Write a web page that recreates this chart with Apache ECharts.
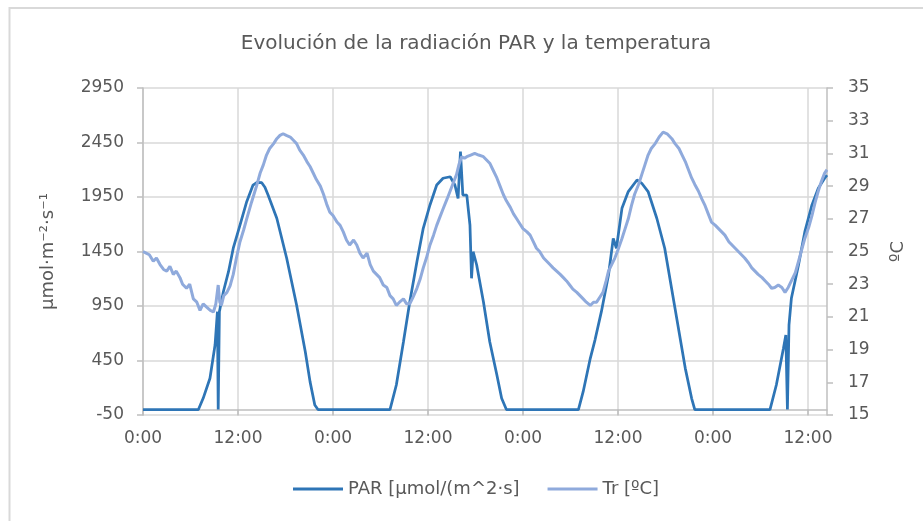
<!DOCTYPE html>
<html>
<head>
<meta charset="utf-8">
<script src="https://cdn.jsdelivr.net/npm/echarts@6/dist/echarts.min.js"></script>
<style>
  html, body { margin: 0; padding: 0; background: #fff; }
  #chart { width: 923px; height: 521px; }
</style>
</head>
<body>
<div id="chart"></div>
<script>
// PAR radiation (µmol/(m^2·s)), time in hours from the first 0:00
const parHours = [
  0, 7.0, 7.6, 8.46, 9.1, 9.4, 9.5, 9.65, 10.15, 10.8, 11.4, 12.25, 13.1, 13.9, 14.4, 15.0, 15.4, 15.8,
  16.9, 18.15, 19.4, 20.5, 21.1, 21.7, 22.1,
  31.2, 32.0, 32.9, 33.7, 34.6, 35.4, 36.25, 37.1, 37.9, 38.8, 39.4, 39.8, 40.1, 40.4, 40.9, 41.3, 41.5,
  41.7, 42.15, 43.0, 43.8, 44.7, 45.3, 45.9,
  55.0, 55.6, 56.5, 57.1, 57.9, 58.8, 59.4, 59.8, 60.5, 61.3, 62.4, 63.0, 63.8, 64.9, 65.9, 67.2, 68.5,
  69.3, 69.7,
  79.2, 80.0, 80.9, 81.2, 81.4, 81.6, 81.9, 82.8, 83.6, 84.5, 85.3, 86.1, 86.4
];
const parValues = [
  0, 0, 103, 287, 592, 898, 0, 898, 1081, 1265, 1480, 1693, 1907, 2060, 2085, 2081, 2040, 1968,
  1755, 1388, 959, 531, 256, 42, 0,
  0, 225, 622, 989, 1356, 1663, 1877, 2060, 2122, 2136, 2060, 1938, 2366, 1968, 1968, 1693, 1204,
  1448, 1326, 989, 622, 317, 103, 0,
  0, 164, 470, 640, 898, 1234, 1571, 1480, 1846, 2000, 2106, 2076, 2000, 1755, 1480, 929, 378,
  103, 0,
  0, 225, 562, 684, 0, 776, 1021, 1326, 1632, 1877, 2030, 2122, 2150
];

// Tr temperature (ºC)
const tempHours = [
  0, 0.4, 0.8, 1.3, 1.7, 2.15, 2.6, 3.0, 3.4, 3.83, 4.2, 4.67, 5.0, 5.5, 5.9, 6.36, 6.8, 7.2, 7.6, 8.04,
  8.5, 8.9, 9.2, 9.5, 9.7, 9.9, 10.2, 10.6, 11.0, 11.4, 11.8, 12.25, 12.7, 13.1, 13.7, 14.4, 14.8, 15.2,
  15.6, 16.0, 16.5, 16.9, 17.3, 17.7, 18.1, 18.6, 19.0, 19.4, 19.8, 20.25, 20.7, 21.1, 21.5, 21.9, 22.4,
  22.8, 23.2, 23.6, 24.0, 24.5, 24.9, 25.3, 25.7, 26.1, 26.6, 27.0, 27.4, 27.8, 28.3, 28.7, 29.1, 29.5,
  29.9, 30.35, 30.8, 31.2, 31.6, 32.0, 32.4, 32.9, 33.3, 33.7, 34.1, 34.6, 35.0, 35.4, 35.8, 36.25,
  36.7, 37.1, 37.5, 37.9, 38.4, 38.8, 39.2, 39.6, 39.9, 40.25, 40.6, 40.9, 41.4, 41.9, 42.4, 43.0,
  43.4, 43.8, 44.2, 44.7, 45.1, 45.5, 45.9, 46.4, 46.8, 47.2, 47.6, 48.0, 48.5, 48.9, 49.3, 49.7, 50.1,
  50.6, 51.0, 51.4, 51.8, 52.25, 52.7, 53.1, 53.5, 53.9, 54.3, 54.8, 55.2, 55.6, 56.0, 56.5, 56.9, 57.3,
  57.7, 58.1, 58.5, 58.8, 59.2, 59.6, 60.0, 60.5, 60.9, 61.3, 61.7, 62.1, 62.6, 63.0, 63.4, 63.8, 64.2,
  64.7, 65.2, 65.7, 66.2, 66.8, 67.2, 67.7, 68.1, 68.5, 68.9, 69.3, 69.7, 70.15, 70.6, 71.0, 71.4, 71.8,
  72.3, 72.7, 73.1, 73.5, 74.0, 74.4, 74.8, 75.2, 75.6, 76.0, 76.5, 76.9, 77.3, 77.7, 78.2, 78.6, 79.0,
  79.4, 79.8, 80.25, 80.7, 81.1, 81.5, 81.9, 82.4, 82.8, 83.2, 83.6, 84.1, 84.5, 84.9, 85.3, 85.7, 86.1,
  86.4
];
const tempValues = [
  25.0, 24.9, 24.8, 24.4, 24.6, 24.2, 23.9, 23.8, 24.1, 23.6, 23.8, 23.4, 23.0, 22.75, 23.0, 22.1, 21.9, 21.4, 21.8, 21.6,
  21.4, 21.3, 21.8, 22.95, 21.9, 21.7, 22.3, 22.5, 22.9, 23.6, 24.6, 25.6, 26.3, 27.0, 28.0, 29.1, 29.8, 30.3,
  30.9, 31.3, 31.6, 31.9, 32.1, 32.2, 32.1, 32.0, 31.8, 31.6, 31.2, 30.9, 30.5, 30.2, 29.8, 29.4, 29.0,
  28.5, 27.9, 27.4, 27.2, 26.8, 26.6, 26.2, 25.7, 25.4, 25.7, 25.4, 24.9, 24.6, 24.9, 24.2, 23.8, 23.6,
  23.4, 22.95, 22.8, 22.3, 22.1, 21.7, 21.9, 22.1, 21.8, 21.8, 22.2, 22.75, 23.3, 24.0, 24.6, 25.4,
  26.0, 26.6, 27.1, 27.6, 28.2, 28.7, 29.2, 29.7, 30.3, 30.8, 30.7, 30.8, 30.9, 31.0, 30.9, 30.8,
  30.6, 30.4, 30.0, 29.5, 29.0, 28.5, 28.1, 27.7, 27.3, 27.0, 26.7, 26.4, 26.2, 26.0, 25.6, 25.2, 25.0,
  24.6, 24.4, 24.2, 24.0, 23.8, 23.6, 23.4, 23.2, 22.95, 22.7, 22.5, 22.3, 22.1, 21.9, 21.7, 21.9, 21.9,
  22.2, 22.5, 23.2, 23.8, 24.2, 24.6, 25.1, 25.8, 26.4, 27.0, 27.8, 28.5, 29.1, 29.7, 30.3, 30.9, 31.3,
  31.6, 32.0, 32.3, 32.2, 31.9, 31.6, 31.3, 30.9, 30.5, 30.0, 29.5, 29.1, 28.7, 28.2, 27.8, 27.3, 26.8,
  26.6, 26.4, 26.2, 26.0, 25.6, 25.4, 25.2, 25.0, 24.8, 24.6, 24.3, 24.0, 23.8, 23.6, 23.4, 23.2, 23.0,
  22.75, 22.8, 22.95, 22.8, 22.5, 22.8, 23.2, 23.7, 24.4, 25.1, 25.8, 26.5, 27.2, 28.0, 28.7, 29.3, 29.8,
  30.0
];

const hourTickStep = 12;
const parTitle = "PAR [µmol/(m^2·s]";
const tempTitle = "Tr [ºC]";

function pairs(xs, ys) {
  return xs.map(function (x, i) { return [x, ys[i]]; });
}

const myChart = echarts.init(document.getElementById("chart"));
const font = "DejaVu Sans";
const textGray = "#595959";

const option = {
  backgroundColor: "#fff",
  animation: false,
  graphic: [
    {
      type: "rect",
      shape: { x: 9.5, y: 8, width: 1000, height: 1000 },
      style: { fill: "none", stroke: "#D9D9D9", lineWidth: 2 },
      silent: true,
    },
  ],
  title: {
    text: "Evolución de la radiación PAR y la temperatura",
    left: 471,
    textAlign: "center",
    top: 29,
    textStyle: { fontFamily: font, fontSize: 20, fontWeight: "normal", color: textGray },
  },
  legend: {
    left: 288,
    top: 475,
    itemWidth: 50,
    itemHeight: 3,
    itemGap: 28,
    icon: "rect",
    textStyle: { fontFamily: font, fontSize: 18, color: textGray, padding: [0, 0, 0, 0] },
    data: [parTitle, tempTitle],
  },
  grid: { left: 143, right: 96, top: 88, bottom: 106 },
  xAxis: {
    type: "value",
    min: 0,
    max: 86.4,
    interval: hourTickStep,
    axisLine: { show: true, lineStyle: { color: "#BFBFBF", width: 1.5 } },
    axisTick: { show: true, length: 6, lineStyle: { color: "#BFBFBF", width: 1.5 } },
    axisLabel: {
      showMaxLabel: false,
      margin: 15,
      fontFamily: font,
      fontSize: 17,
      color: textGray,
      formatter: function (v) { return (v % 24) + ":00"; },
    },
    splitLine: { show: true, showMaxLine: false, lineStyle: { color: "#D9D9D9", width: 1.5 } },
  },
  yAxis: [
    {
      type: "value",
      min: -50,
      max: 2950,
      interval: 500,
      name: "µmol·m⁻²·s⁻¹",
      nameLocation: "middle",
      nameRotate: 90,
      nameGap: 86,
      nameTextStyle: { fontFamily: font, fontSize: 18, color: textGray },
      axisLine: { show: true, lineStyle: { color: "#BFBFBF", width: 1.5 } },
      axisTick: { show: true, length: 6, lineStyle: { color: "#BFBFBF", width: 1.5 } },
      axisLabel: {
        margin: 19,
        fontFamily: font,
        fontSize: 17,
        color: textGray,
        formatter: function (v) { return String(v); },
      },
      splitLine: { show: true, lineStyle: { color: "#D9D9D9", width: 1.5 } },
    },
    {
      type: "value",
      min: 15,
      max: 35,
      interval: 2,
      name: "ºC",
      nameLocation: "middle",
      nameRotate: 90,
      nameGap: 62,
      nameTextStyle: { fontFamily: font, fontSize: 18, color: textGray },
      axisLine: { show: true, lineStyle: { color: "#BFBFBF", width: 1.5 } },
      axisTick: { show: true, length: 6, lineStyle: { color: "#BFBFBF", width: 1.5 } },
      axisLabel: { margin: 21, fontFamily: font, fontSize: 17, color: textGray },
      splitLine: { show: false },
    },
  ],
  series: [
    {
      name: parTitle,
      type: "line",
      yAxisIndex: 0,
      showSymbol: false,
      data: pairs(parHours, parValues),
      lineStyle: { color: "#2E75B6", width: 2.75 },
      itemStyle: { color: "#2E75B6" },
    },
    {
      name: tempTitle,
      type: "line",
      yAxisIndex: 1,
      showSymbol: false,
      data: pairs(tempHours, tempValues),
      lineStyle: { color: "#8FAADC", width: 3 },
      itemStyle: { color: "#8FAADC" },
    },
  ],
};

myChart.setOption(option);
window.addEventListener("resize", function () {
  myChart.resize();
});
</script>
</body>
</html>
